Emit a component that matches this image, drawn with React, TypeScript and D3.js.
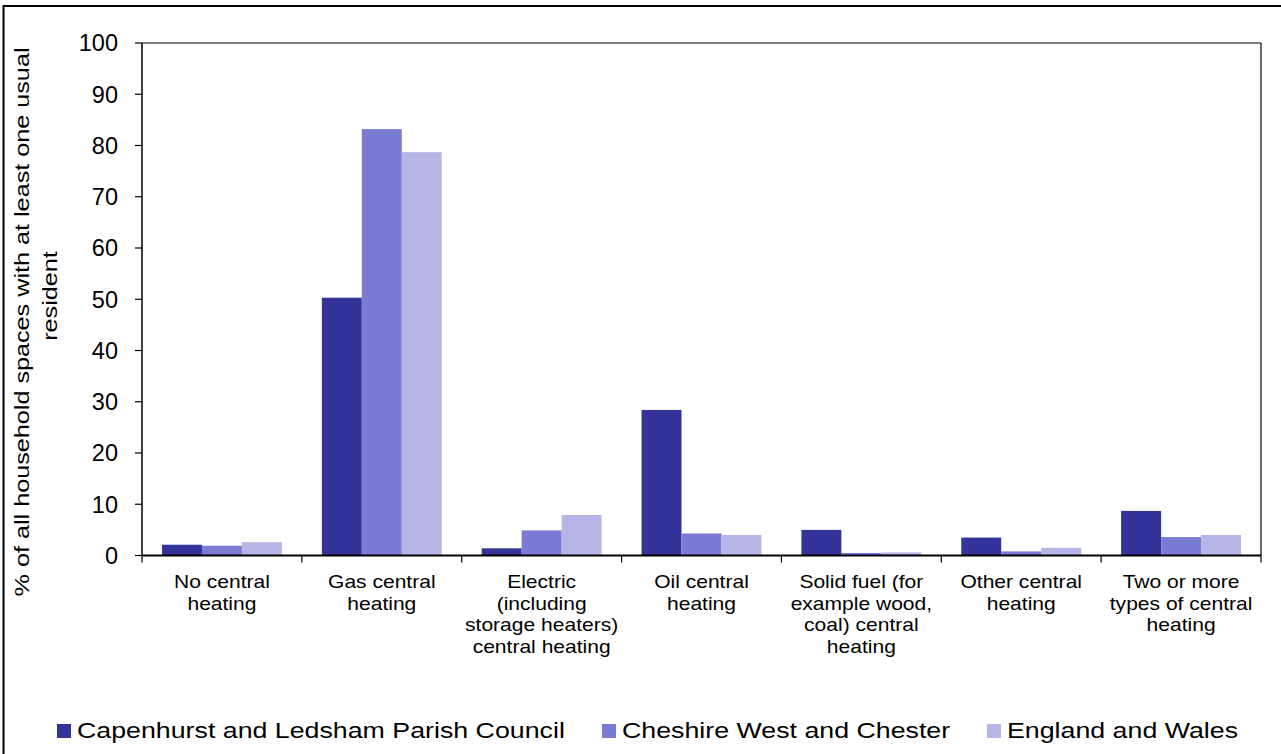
import React from "react";
import * as d3 from "d3";

const categories = [
  "No central heating",
  "Gas central heating",
  "Electric (including storage heaters) central heating",
  "Oil central heating",
  "Solid fuel (for example wood, coal) central heating",
  "Other central heating",
  "Two or more types of central heating",
];
const categoryLines = [
  ["No central", "heating"],
  ["Gas central", "heating"],
  ["Electric", "(including", "storage heaters)", "central heating"],
  ["Oil central", "heating"],
  ["Solid fuel (for", "example wood,", "coal) central", "heating"],
  ["Other central", "heating"],
  ["Two or more", "types of central", "heating"],
];
const seriesNames = [
  "Capenhurst and Ledsham Parish Council",
  "Cheshire West and Chester",
  "England and Wales",
];
const capenhurst = [2.1, 50.3, 1.4, 28.4, 5.0, 3.5, 8.7];
const cheshire = [1.9, 83.2, 4.9, 4.3, 0.5, 0.8, 3.6];
const englandWales = [2.6, 78.7, 7.9, 4.0, 0.6, 1.5, 4.0];
const yTicks = [0, 10, 20, 30, 40, 50, 60, 70, 80, 90, 100];
const yTitleLines = ["% of all household spaces with at least one usual", "resident"];

const colors = ["#333399", "#7b7bd4", "#b6b6e6"];
const FONT = "'Liberation Sans', Arial, sans-serif";

export default function App() {
  const W = 1281, H = 754;
  const left = 142, right = 1261, top = 43, bottom = 555.5;
  const series = [capenhurst, cheshire, englandWales];

  const x = d3.scaleBand<string>().domain(categories).range([left, right]).paddingInner(0).paddingOuter(0);
  const inner = d3.scaleBand<number>().domain([0, 1, 2]).range([0, x.bandwidth()]).paddingInner(0).paddingOuter(0.5);
  const y = d3.scaleLinear().domain([0, 100]).range([bottom, top]);

  const legendX = [57, 602, 987];

  return (
    <svg width={W} height={H} style={{ position: "absolute", left: 0, top: 0, background: "#fff" }} fontFamily={FONT}>
      <rect x={0} y={0} width={W} height={H} fill="#fff" />
      <rect x={3.5} y={6} width={W + 20} height={H + 20} fill="none" stroke="#000" strokeWidth={2} />

      {/* bars */}
      {series.map((vals, si) =>
        vals.map((v, ci) => (
          <rect
            key={`b${si}-${ci}`}
            x={(x(categories[ci]) as number) + (inner(si) as number)}
            y={y(v)}
            width={inner.bandwidth()}
            height={y(0) - y(v)}
            fill={colors[si]}
          />
        ))
      )}

      {/* plot frame */}
      <line x1={left} x2={right} y1={top} y2={top} stroke="#000" strokeWidth={1.2} />
      <line x1={right} x2={right} y1={top} y2={bottom} stroke="#000" strokeWidth={1.2} />
      <line x1={left} x2={left} y1={top} y2={bottom} stroke="#000" strokeWidth={1.5} />
      <line x1={left} x2={right} y1={bottom} y2={bottom} stroke="#000" strokeWidth={2} />

      {/* y ticks */}
      {yTicks.map((t) => (
        <g key={`yt${t}`}>
          <line x1={left - 7} x2={left} y1={y(t)} y2={y(t)} stroke="#000" strokeWidth={1.2} />
          <text x={118} y={y(t)} dy="0.36em" textAnchor="end" fontSize={23.5} fill="#000">
            {t}
          </text>
        </g>
      ))}

      {/* x ticks */}
      {d3.range(categories.length + 1).map((i) => {
        const xx = left + i * x.step();
        return <line key={`xt${i}`} x1={xx} x2={xx} y1={bottom} y2={bottom + 7} stroke="#000" strokeWidth={1.2} />;
      })}

      {/* category labels */}
      {categories.map((c, ci) => {
        const cx = (x(c) as number) + x.bandwidth() / 2;
        return categoryLines[ci].map((line, li) => (
          <text
            key={`cl${ci}-${li}`}
            transform={`translate(${cx},${588 + li * 21.7}) scale(1.12,1)`}
            textAnchor="middle"
            fontSize={18.8}
            fill="#000"
          >
            {line}
          </text>
        ));
      })}

      {/* y title */}
      <text transform={`translate(29,322) rotate(-90) scale(1.2,1)`} textAnchor="middle" fontSize={21} fill="#000">
        {yTitleLines[0]}
      </text>
      <text transform={`translate(57,296) rotate(-90) scale(1.2,1)`} textAnchor="middle" fontSize={21} fill="#000">
        {yTitleLines[1]}
      </text>

      {/* legend */}
      {seriesNames.map((name, si) => (
        <g key={`lg${si}`}>
          <rect x={legendX[si]} y={724} width={14} height={14} fill={colors[si]} />
          <text transform={`translate(${legendX[si] + 20},737.5) scale(1.245,1)`} fontSize={21.5} fill="#000">
            {name}
          </text>
        </g>
      ))}
    </svg>
  );
}
